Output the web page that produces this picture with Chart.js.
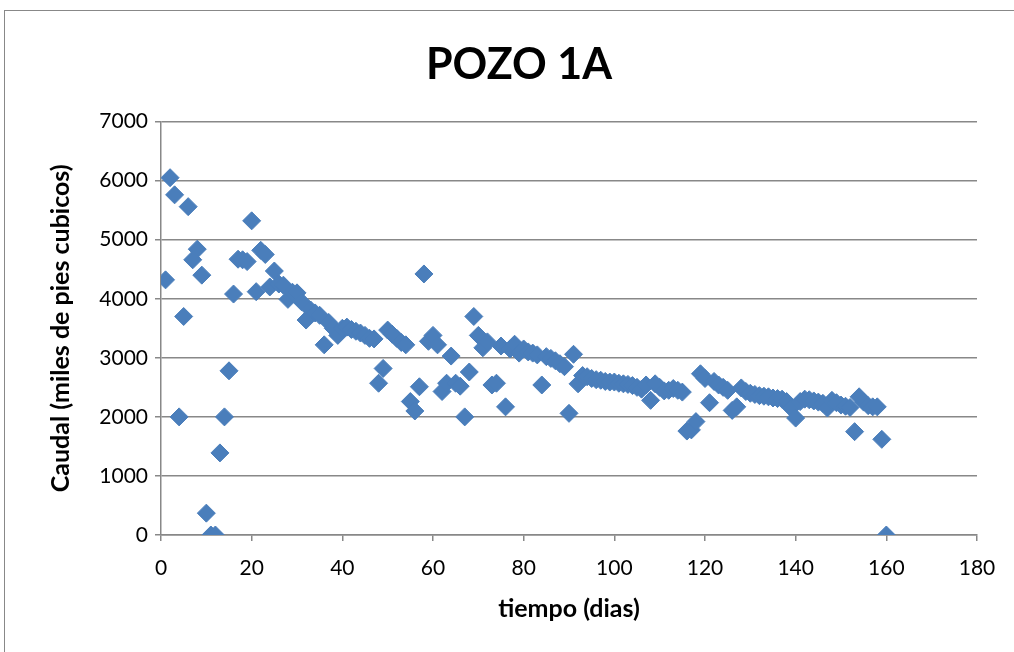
<!DOCTYPE html>
<html>
<head>
<meta charset="utf-8">
<script src="https://cdn.jsdelivr.net/npm/chart.js@4"></script>
<style>
  html, body { margin: 0; padding: 0; background: #fff; }
  #wrap { width: 1014px; height: 652px; }
</style>
</head>
<body>
<div id="wrap"><canvas id="pozo" width="1014" height="652"></canvas></div>
<script>
const dias = [
  1, 2, 3, 4, 5, 6, 7, 8, 9, 10, 11, 12, 13, 14, 15, 16, 17, 18, 19, 20,
  21, 22, 23, 24, 25, 26, 27, 28, 29, 30, 31, 32, 33, 34, 35, 36, 37, 38, 39, 40,
  41, 42, 43, 44, 45, 46, 47, 48, 49, 50, 51, 52, 53, 54, 55, 56, 57, 58, 59, 60,
  61, 62, 63, 64, 65, 66, 67, 68, 69, 70, 71, 72, 73, 74, 75, 76, 77, 78, 79, 80,
  81, 82, 83, 84, 85, 86, 87, 88, 89, 90, 91, 92, 93, 94, 95, 96, 97, 98, 99, 100,
  101, 102, 103, 104, 105, 106, 107, 108, 109, 110, 111, 112, 113, 114, 115, 116, 117, 118, 119, 120,
  121, 122, 123, 124, 125, 126, 127, 128, 129, 130, 131, 132, 133, 134, 135, 136, 137, 138, 139, 140,
  141, 142, 143, 144, 145, 146, 147, 148, 149, 150, 151, 152, 153, 154, 155, 156, 157, 158, 159, 160
];

const caudal = [
  4320, 6050, 5760, 2000, 3700, 5560, 4660, 4840, 4400, 370,
  0, 0, 1390, 2000, 2780, 4080, 4670, 4660, 4630, 5320,
  4120, 4820, 4750, 4200, 4470, 4250, 4230, 3990, 4110, 4100,
  3950, 3640, 3810, 3760, 3720, 3220, 3600, 3500, 3380, 3500,
  3520, 3480, 3450, 3420, 3380, 3330, 3320, 2570, 2820, 3470,
  3400, 3330, 3260, 3220, 2260, 2100, 2510, 4420, 3280, 3380,
  3220, 2430, 2570, 3030, 2570, 2520, 2000, 2760, 3700, 3380,
  3170, 3270, 2540, 2570, 3200, 2170, 3150, 3230, 3080, 3150,
  3100, 3080, 3050, 2540, 3020, 2990, 2950, 2900, 2850, 2060,
  3060, 2560, 2700, 2680, 2650, 2630, 2620, 2600, 2590, 2590,
  2570, 2560, 2550, 2530, 2500, 2470, 2540, 2280, 2560, 2500,
  2440, 2450, 2480, 2450, 2420, 1760, 1780, 1920, 2730, 2650,
  2240, 2600, 2540, 2500, 2450, 2110, 2170, 2490, 2430, 2400,
  2380, 2360, 2350, 2340, 2320, 2310, 2300, 2260, 2150, 1980,
  2260, 2300, 2290, 2270, 2250, 2230, 2150, 2280, 2240, 2200,
  2180, 2160, 1750, 2340, 2250, 2190, 2170, 2170, 1620, 0
];

const xTicks = { min: 0, max: 180, step: 20 };
const yTicks = { min: 0, max: 7000, step: 1000 };

const puntos = dias.map((d, i) => ({ x: d, y: caudal[i] }));

const marco = {
  id: 'marco',
  beforeDraw(chart) {
    const ctx = chart.ctx;
    ctx.save();
    ctx.fillStyle = '#fff';
    ctx.fillRect(0, 0, chart.width, chart.height);
    ctx.strokeStyle = '#888';
    ctx.lineWidth = 1;
    ctx.strokeRect(4.5, 10.5, 1100, 700);
    ctx.restore();
  }
};

const gris = '#888888';

new Chart(document.getElementById('pozo'), {
  type: 'scatter',
  data: {
    datasets: [{
      label: 'Caudal',
      data: puntos,
      pointStyle: 'rectRot',
      pointRadius: 9,
      pointHoverRadius: 9,
      backgroundColor: '#4A7EBB',
      borderColor: '#4A7EBB',
      borderWidth: 1
    }]
  },
  options: {
    responsive: false,
    animation: false,
    layout: { padding: { left: 24, right: 0, top: 0, bottom: 0 } },
    plugins: {
      legend: { display: false },
      tooltip: { enabled: false },
      title: {
        display: true,
        text: 'POZO 1A',
        color: '#000',
        font: { family: 'Lato', size: 43, weight: 'bold', lineHeight: 1.2 },
        padding: { top: 39, bottom: 31 }
      }
    },
    scales: {
      x: {
        type: 'linear',
        min: xTicks.min,
        max: xTicks.max,
        afterFit: (s) => { s.height = 117; },
        ticks: {
          stepSize: xTicks.step,
          color: '#000',
          padding: 15,
          font: { family: 'Lato', size: 21 }
        },
        grid: { drawOnChartArea: false, drawTicks: true, tickLength: 6, color: gris, lineWidth: 1.5 },
        border: { color: gris, width: 1.5 },
        title: {
          display: true,
          text: 'tiempo (dias)',
          color: '#000',
          font: { family: 'Lato', size: 25, weight: 'bold', lineHeight: 1.2 },
          padding: { top: 0, bottom: 28 }
        }
      },
      y: {
        min: yTicks.min,
        max: yTicks.max,
        afterFit: (s) => { s.width = 137; },
        ticks: {
          stepSize: yTicks.step,
          color: '#000',
          padding: 7,
          font: { family: 'Lato', size: 21 },
          callback: (v) => String(v)
        },
        grid: { color: gris, lineWidth: 1.5, tickLength: 6 },
        border: { color: gris, width: 1.5 },
        title: {
          display: true,
          text: 'Caudal (miles de pies cubicos)',
          color: '#000',
          font: { family: 'Lato', size: 25, weight: 'bold', lineHeight: 1.2 },
          padding: { top: 22, bottom: 0 }
        }
      },
      derecha: {
        position: 'right',
        min: yTicks.min,
        max: yTicks.max,
        afterFit: (s) => { s.width = 37; },
        ticks: { display: false },
        grid: { display: false },
        border: { display: false }
      }
    }
  },
  plugins: [marco]
});
</script>
</body>
</html>
